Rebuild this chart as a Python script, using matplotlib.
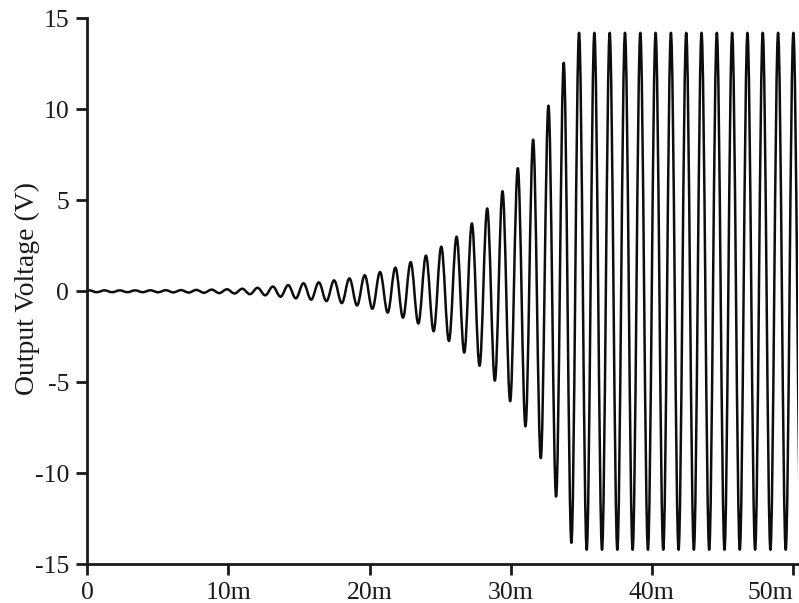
import matplotlib
matplotlib.use('Agg')
import matplotlib.pyplot as plt
from matplotlib.path import Path
from matplotlib.patches import PathPatch

# oscillator start-up trace
PERIOD_MS = 1.085       # one full cycle
FIRST_PEAK_MS = 0.13    # time of the first positive peak
X_END_MS = 50.37

# positive peak of every cycle (V)
PEAK_V = [0.05, 0.05, 0.05, 0.05, 0.055, 0.06, 0.065, 0.075, 0.09, 0.11,
          0.14, 0.19, 0.26, 0.34, 0.44, 0.49, 0.60, 0.71, 0.88, 1.06,
          1.30, 1.60, 1.96, 2.45, 3.00, 3.73, 4.55, 5.50, 6.76, 8.33,
          10.2, 12.55, 14.2, 14.2, 14.2, 14.2, 14.2, 14.2, 14.2, 14.2,
          14.2, 14.2, 14.2, 14.2, 14.2, 14.2, 14.2]

# negative trough of every cycle (V), one before the first peak and one after the last
TROUGH_V = [-0.05,
            -0.05, -0.05, -0.05, -0.05, -0.055, -0.06, -0.07, -0.08, -0.10, -0.12,
            -0.16, -0.22, -0.30, -0.39, -0.46, -0.54, -0.65, -0.78, -0.96, -1.17,
            -1.45, -1.77, -2.20, -2.73, -3.37, -4.09, -4.91, -6.04, -7.42, -9.17,
            -11.28, -13.82,
            -14.2, -14.2, -14.2, -14.2, -14.2, -14.2, -14.2, -14.2, -14.2, -14.2,
            -14.2, -14.2, -14.2, -14.2, -14.2]

X_TICKS = [0, 10, 20, 30, 40, 50]
X_TICK_LABELS = ['0', '10m', '20m', '30m', '40m', '50m']
Y_TICKS = [15, 10, 5, 0, -5, -10, -15]
Y_TICK_LABELS = ['15', '10', '5', '0', '-5', '-10', '-15']

plt.rcParams['font.family'] = ['Liberation Serif', 'DejaVu Serif']
plt.rcParams['axes.unicode_minus'] = False

# alternate trough / peak extrema along the time axis
values = []
for i in range(len(PEAK_V)):
    values.append(TROUGH_V[i])
    values.append(PEAK_V[i])
values.append(TROUGH_V[len(PEAK_V)])
half = PERIOD_MS / 2.0
times = [FIRST_PEAK_MS - half + k * half for k in range(len(values))]

# smooth half-waves between extrema (horizontal tangent at each peak)
c = 0.36
verts = [(times[0], values[0])]
codes = [Path.MOVETO]
for k in range(1, len(values)):
    t0, v0 = times[k - 1], values[k - 1]
    t1, v1 = times[k], values[k]
    h = t1 - t0
    verts += [(t0 + c * h, v0), (t1 - c * h, v1), (t1, v1)]
    codes += [Path.CURVE4] * 3

fig = plt.figure(figsize=(7.99, 6.03), dpi=100)
fig.patch.set_facecolor('white')
ax = fig.add_axes([0.1093, 0.0642, 0.8895, 0.9055])

trace = PathPatch(Path(verts, codes), facecolor='none', edgecolor='#0d0d0d',
                  linewidth=1.8, joinstyle='round')
ax.add_patch(trace)

ax.set_xlim(0, X_END_MS)
ax.set_ylim(-15, 15)

ax.set_xticks(X_TICKS)
ax.set_xticklabels(X_TICK_LABELS)
ax.set_yticks(Y_TICKS)
ax.set_yticklabels(Y_TICK_LABELS)
ax.get_xticklabels()[-1].set_horizontalalignment('right')

for side in ['top', 'right']:
    ax.spines[side].set_visible(False)
for side in ['left', 'bottom']:
    ax.spines[side].set_linewidth(2)
    ax.spines[side].set_color('#1a1a1a')

ax.tick_params(direction='out', length=8, width=2, color='#1a1a1a',
               labelsize=18.5, pad=5, labelcolor='#1a1a1a')

ax.set_ylabel('Output Voltage (V)', fontsize=20, color='#1a1a1a')
ax.yaxis.set_label_coords(-0.066, 0.505)

fig.savefig('out.png', dpi=100, facecolor='white')
